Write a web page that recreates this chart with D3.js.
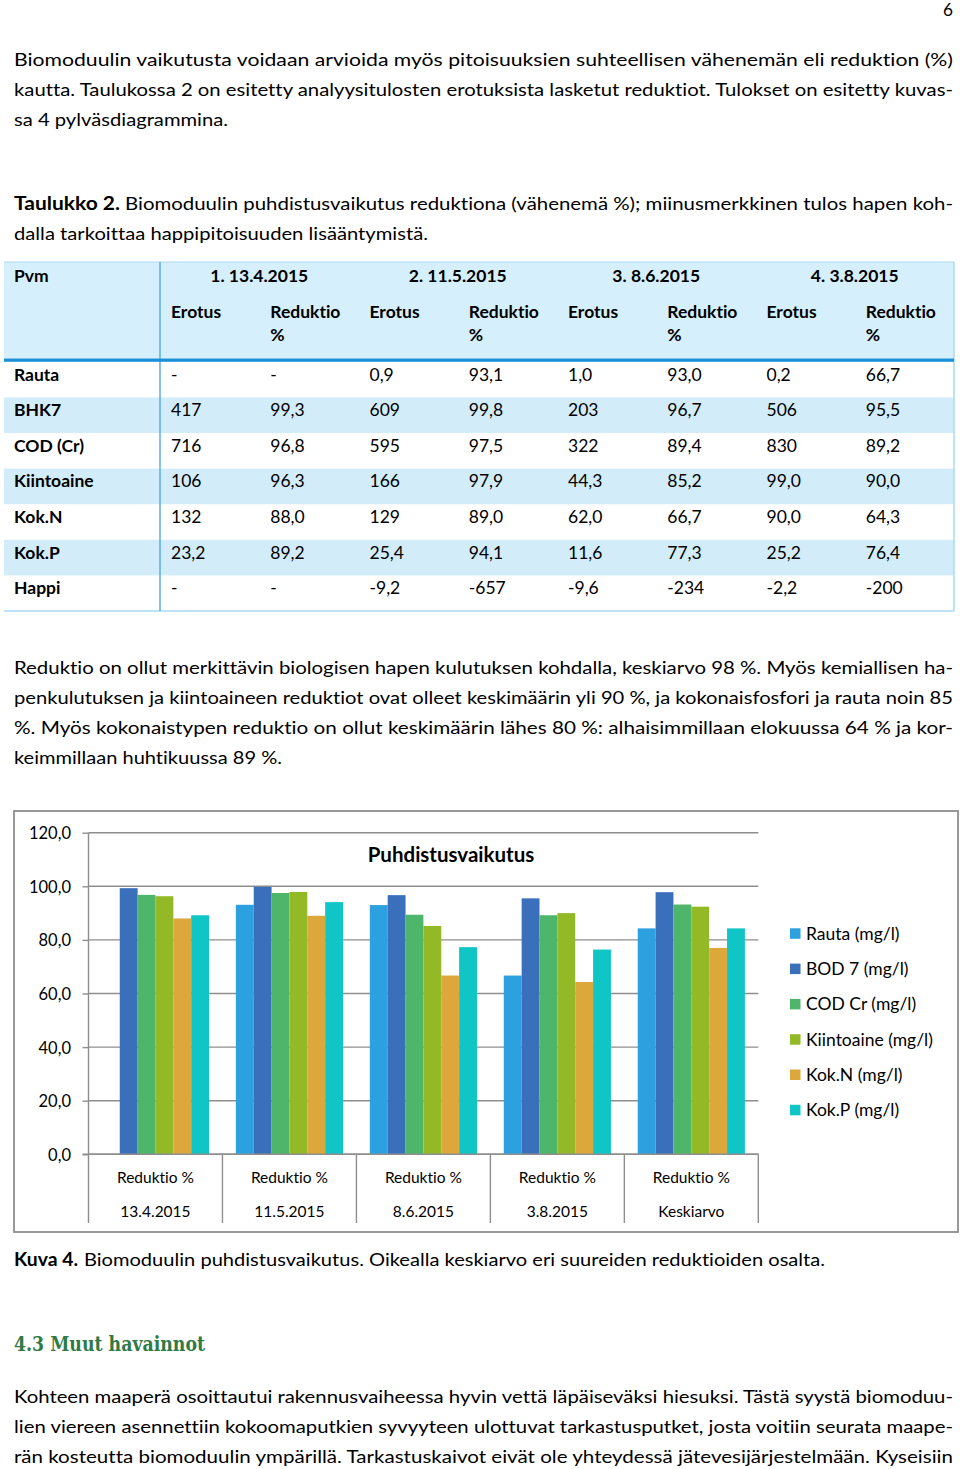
<!DOCTYPE html>
<html>
<head>
<meta charset="utf-8">
<script src="https://cdn.jsdelivr.net/npm/d3@7"></script>
<style>
html,body{margin:0;padding:0;background:#fff;}
svg{display:block;}
text{font-family:Lato,"Noto Sans",sans-serif;fill:#000;font-variant-ligatures:none;font-feature-settings:"liga" 0,"clig" 0;}
</style>
</head>
<body>
<svg id="page" width="960" height="1469"></svg>
<script>
// ---------- DATA ----------
const categories = ["13.4.2015", "11.5.2015", "8.6.2015", "3.8.2015", "Keskiarvo"];
const categoryLabel = "Reduktio %";
const seriesNames = ["Rauta (mg/l)", "BOD 7 (mg/l)", "COD Cr (mg/l)", "Kiintoaine (mg/l)", "Kok.N (mg/l)", "Kok.P (mg/l)"];
const rauta       = [null, 93.1, 93.0, 66.7, 84.3];
const bod7        = [99.3, 99.8, 96.7, 95.5, 97.8];
const codCr       = [96.8, 97.5, 89.4, 89.2, 93.2];
const kiintoaine  = [96.3, 97.9, 85.2, 90.0, 92.4];
const kokN        = [88.0, 89.0, 66.7, 64.3, 77.0];
const kokP        = [89.2, 94.1, 77.3, 76.4, 84.3];
const yTicks = [0, 20, 40, 60, 80, 100, 120];
const chartTitle = "Puhdistusvaikutus";

const tableDates = ["1. 13.4.2015", "2. 11.5.2015", "3. 8.6.2015", "4. 3.8.2015"];
const tableSubHeads = ["Erotus", "Reduktio"];
const tableRowNames = ["Rauta", "BHK7", "COD (Cr)", "Kiintoaine", "Kok.N", "Kok.P", "Happi"];
const tableRauta      = ["-", "-", "0,9", "93,1", "1,0", "93,0", "0,2", "66,7"];
const tableBHK7       = ["417", "99,3", "609", "99,8", "203", "96,7", "506", "95,5"];
const tableCOD        = ["716", "96,8", "595", "97,5", "322", "89,4", "830", "89,2"];
const tableKiintoaine = ["106", "96,3", "166", "97,9", "44,3", "85,2", "99,0", "90,0"];
const tableKokN       = ["132", "88,0", "129", "89,0", "62,0", "66,7", "90,0", "64,3"];
const tableKokP       = ["23,2", "89,2", "25,4", "94,1", "11,6", "77,3", "25,2", "76,4"];
const tableHappi      = ["-", "-", "-9,2", "-657", "-9,6", "-234", "-2,2", "-200"];

const para1 = [
  "Biomoduulin vaikutusta voidaan arvioida myös pitoisuuksien suhteellisen vähenemän eli reduktion (%)",
  "kautta. Taulukossa 2 on esitetty analyysitulosten erotuksista lasketut reduktiot. Tulokset on esitetty kuvas-",
  "sa 4 pylväsdiagrammina."
];
const tableCaptionBold = "Taulukko 2.";
const tableCaption = [
  "Biomoduulin puhdistusvaikutus reduktiona (vähenemä %); miinusmerkkinen tulos hapen koh-",
  "dalla tarkoittaa happipitoisuuden lisääntymistä."
];
const para2 = [
  "Reduktio on ollut merkittävin biologisen hapen kulutuksen kohdalla, keskiarvo 98 %. Myös kemiallisen ha-",
  "penkulutuksen ja kiintoaineen reduktiot ovat olleet keskimäärin yli 90 %, ja kokonaisfosfori ja rauta noin 85",
  "%. Myös kokonaistypen reduktio on ollut keskimäärin lähes 80 %: alhaisimmillaan elokuussa 64 % ja kor-",
  "keimmillaan huhtikuussa 89 %."
];
const figCaptionBold = "Kuva 4.";
const figCaption = "Biomoduulin puhdistusvaikutus. Oikealla keskiarvo eri suureiden reduktioiden osalta.";
const heading = "4.3 Muut havainnot";
const para3 = [
  "Kohteen maaperä osoittautui rakennusvaiheessa hyvin vettä läpäiseväksi hiesuksi. Tästä syystä biomoduu-",
  "lien viereen asennettiin kokoomaputkien syvyyteen ulottuvat tarkastusputket, josta voitiin seurata maape-",
  "rän kosteutta biomoduulin ympärillä. Tarkastuskaivot eivät ole yhteydessä jätevesijärjestelmään. Kyseisiin"
];
const pageNumber = "6";

// ---------- DRAW ----------
const svg = d3.select("#page");
const FS = 18;

function line(txt, x, y, width, opts = {}) {
  const t = svg.append("text").attr("x", x).attr("y", y)
    .style("font-size", (opts.size || FS) + "px")
    .style("font-weight", opts.bold ? "700" : "400")
    .text(txt);
  if (opts.fill) t.style("fill", opts.fill);
  if (opts.family) t.style("font-family", opts.family);
  if (width) t.attr("textLength", width).attr("lengthAdjust", "spacingAndGlyphs");
  return t;
}

// page number
line(pageNumber, 943, 16, 10, {size: 17});

// paragraph 1
const p1End = [953, 953, 228];
para1.forEach((s, i) => line(s, 14, 66 + i * 30, p1End[i] - 14));

// table caption
line(tableCaptionBold, 14, 210, 120 - 14, {bold: true});
line(tableCaption[0], 125, 210, 953 - 125);
line(tableCaption[1], 14, 240, 428 - 14);

// ---------- TABLE ----------
const tL = 4, tR = 954, tTop = 262, hdrBottom = 358.5, firstCol = 160;
const colW = (tR - firstCol) / 8;
const rowH = 35.6, bodyTop = 361.8;
const tableData = [tableRauta, tableBHK7, tableCOD, tableKiintoaine, tableKokN, tableKokP, tableHappi];
const lightBlue = "#d3ecfa";

svg.append("rect").attr("x", tL).attr("y", tTop).attr("width", tR - tL).attr("height", hdrBottom - tTop).attr("fill", "#d6effc");
tableRowNames.forEach((name, i) => {
  const top = bodyTop + i * rowH;
  if (i % 2 === 1) svg.append("rect").attr("x", tL).attr("y", top).attr("width", tR - tL).attr("height", rowH).attr("fill", lightBlue);
});
// borders
svg.append("line").attr("x1", tL).attr("x2", tR).attr("y1", tTop).attr("y2", tTop).attr("stroke", "#a9d8f3").attr("stroke-width", 1.2);
svg.append("line").attr("x1", tR).attr("x2", tR).attr("y1", tTop).attr("y2", bodyTop + 7 * rowH).attr("stroke", "#a9d8f3").attr("stroke-width", 1.5);
svg.append("line").attr("x1", tL).attr("x2", tR).attr("y1", bodyTop + 7 * rowH).attr("y2", bodyTop + 7 * rowH).attr("stroke", "#a9d8f3").attr("stroke-width", 1.5);
svg.append("line").attr("x1", firstCol).attr("x2", firstCol).attr("y1", tTop).attr("y2", bodyTop + 7 * rowH).attr("stroke", "#5aaee3").attr("stroke-width", 1.5);
svg.append("rect").attr("x", tL).attr("y", hdrBottom).attr("width", tR - tL).attr("height", 3.3).attr("fill", "#1b8fd8");

const TFS = 17.5;
function cell(txt, x, y, bold, anchor) {
  svg.append("text").attr("x", x).attr("y", y)
    .style("font-size", TFS + "px").style("font-weight", bold ? "700" : "400")
    .attr("text-anchor", anchor || "start").text(txt);
}
cell("Pvm", 14, 282, true);
tableDates.forEach((d, i) => cell(d, firstCol + colW * (2 * i + 1), 282, true, "middle"));
for (let c = 0; c < 8; c++) {
  const x = firstCol + c * colW + 11;
  cell(tableSubHeads[c % 2], x, 318, true);
  if (c % 2 === 1) cell("%", x, 341, true);
}
tableRowNames.forEach((name, i) => {
  const base = bodyTop + i * rowH + 18.8;
  cell(name, 14, base, true);
  tableData[i].forEach((v, c) => cell(v, firstCol + c * colW + 11, base, false));
});

// paragraph 2
const p2End = [953, 953, 953, 282];
para2.forEach((s, i) => line(s, 14, 674 + i * 30, p2End[i] - 14));

// ---------- CHART ----------
const frame = {x: 14, y: 811, w: 944, h: 421};
svg.append("rect").attr("x", frame.x).attr("y", frame.y).attr("width", frame.w).attr("height", frame.h)
  .attr("fill", "#fff").attr("stroke", "#8e8e8e").attr("stroke-width", 1.8);

const plotL = 88.5, plotR = 758.3, plotBottom = 1154.3, plotTop = 832.7, catBottom = 1223;
const x0 = d3.scaleBand().domain(categories).range([plotL, plotR]).paddingInner(0).paddingOuter(0);
const x1 = d3.scaleBand().domain(seriesNames).range([0, x0.bandwidth()]).paddingInner(0).paddingOuter(0.75);
const y = d3.scaleLinear().domain([0, 120]).range([plotBottom, plotTop]);
const color = d3.scaleOrdinal().domain(seriesNames)
  .range(["#2da0e0", "#3a6fbb", "#4db66b", "#93b926", "#dca83b", "#10c5c6"]);
const locale = d3.formatLocale({decimal: ",", thousands: " ", grouping: [3], currency: ["", ""]});
const fmt = locale.format(".1f");

// gridlines + ticks via axis
const yAxis = d3.axisLeft(y).tickValues(yTicks).tickSize(6).tickSizeOuter(0).tickFormat(fmt);
const gy = svg.append("g").attr("transform", `translate(${plotL},0)`).call(yAxis);
gy.select(".domain").remove();
gy.selectAll(".tick line").attr("stroke", "#8e8e8e").attr("stroke-width", 1.4);
gy.selectAll(".tick text").attr("x", -17.5).attr("dy", "0.36em")
  .style("font-family", "Lato, sans-serif").style("font-size", "16.5px").attr("fill", "#000");
svg.append("g").selectAll("line").data(yTicks).join("line")
  .attr("x1", plotL).attr("x2", plotR).attr("y1", d => y(d)).attr("y2", d => y(d))
  .attr("stroke", "#8e8e8e").attr("stroke-width", 1.4);

// category separators
const bounds = categories.map(c => x0(c)).concat([plotR]);
svg.append("g").selectAll("line").data(bounds).join("line")
  .attr("x1", d => d).attr("x2", d => d)
  .attr("y1", (d, i) => i === 0 ? plotTop : plotBottom).attr("y2", catBottom)
  .attr("stroke", "#8e8e8e").attr("stroke-width", 1.4);

// bars
const seriesValues = [rauta, bod7, codCr, kiintoaine, kokN, kokP];
const barData = [];
categories.forEach((c, ci) => seriesNames.forEach((s, si) => {
  const v = seriesValues[si][ci];
  if (v != null) barData.push({c, s, v});
}));
svg.append("g").selectAll("rect").data(barData).join("rect")
  .attr("x", d => x0(d.c) + x1(d.s)).attr("width", x1.bandwidth())
  .attr("y", d => y(d.v)).attr("height", d => y(0) - y(d.v))
  .attr("fill", d => color(d.s));

// zero line on top
svg.append("line").attr("x1", plotL - 6).attr("x2", plotR).attr("y1", y(0)).attr("y2", y(0))
  .attr("stroke", "#8e8e8e").attr("stroke-width", 1.4);

// category labels
const gc = svg.append("g");
categories.forEach(c => {
  const cx = x0(c) + x0.bandwidth() / 2;
  gc.append("text").attr("x", cx).attr("y", 1183).attr("text-anchor", "middle").style("font-size", "15.5px").text(categoryLabel);
  gc.append("text").attr("x", cx).attr("y", 1217).attr("text-anchor", "middle").style("font-size", "15.5px").text(c);
});

// title
svg.append("text").attr("x", 451).attr("y", 862).attr("text-anchor", "middle")
  .style("font-size", "20.5px").style("font-weight", "700").text(chartTitle);

// legend
const lg = svg.append("g");
seriesNames.forEach((s, i) => {
  const cy = 933.3 + i * 35.3;
  lg.append("rect").attr("x", 790).attr("y", cy - 5).attr("width", 10.5).attr("height", 10.5).attr("fill", color(s));
  lg.append("text").attr("x", 806).attr("y", cy + 6.3).style("font-size", "17.5px").text(s);
});

// figure caption
line(figCaptionBold, 14, 1266, 78 - 14, {bold: true});
line(figCaption, 84, 1266, 825 - 84);

// heading
line(heading, 14, 1351, 205 - 14, {bold: true, size: 21, fill: "#2f7a45", family: "'DejaVu Serif', 'Liberation Serif', serif"});

// paragraph 3
para3.forEach((s, i) => line(s, 14, 1403 + i * 30, 953 - 14));
</script>
</body>
</html>
